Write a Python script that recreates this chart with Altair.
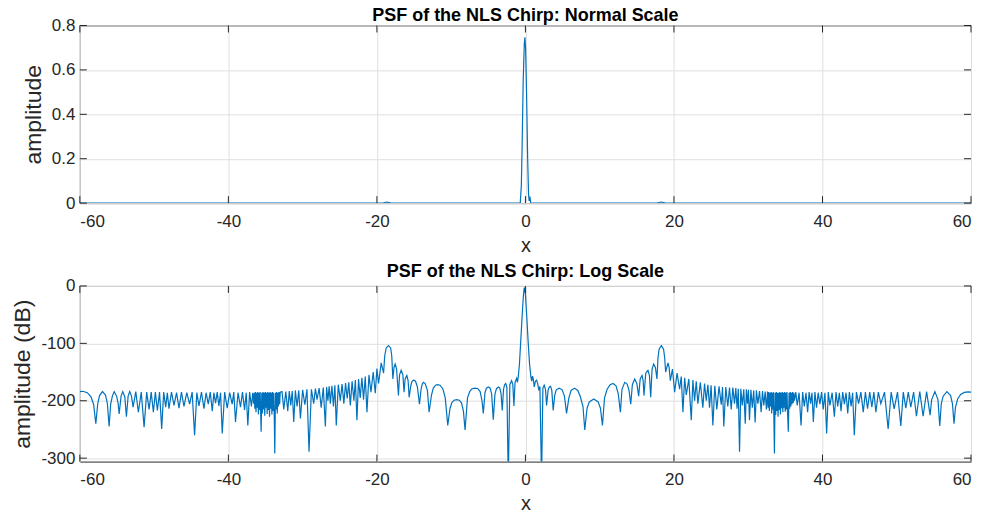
import altair as alt
import pandas as pd

# ---------------- data ----------------
x_ticks = [-60, -40, -20, 0, 20, 40, 60]
norm_ticks = [0, 0.2, 0.4, 0.6, 0.8]
db_ticks = [-300, -200, -100, 0]

# normal scale: amplitude
norm_x = [-60, -19.2, -18.65, -18.1, -1.0, -0.7, -0.55, -0.45, -0.3, -0.15, -0.07,
          0.02, 0.15, 0.3, 0.42, 0.5, 0.6, 0.72, 0.9, 17.7, 18.3, 18.9, 60]
norm_y = [0, 0, 0.005, 0, 0, 0.0, 0.08, 0.25, 0.55, 0.72, 0.747,
          0.70, 0.50, 0.20, 0.04, 0.01, 0.03, 0.0, 0, 0, 0.005, 0, 0]

# log scale (dB): left wing, centre, right wing as (x, dB)
left_wing = [
    (-60.0, -184), (-59.6, -183.5), (-59.0, -186), (-58.5, -193), (-58.15, -206), (-57.85, -240),
    (-57.6, -206), (-57.35, -191), (-56.95, -184), (-56.55, -190), (-56.3, -204), (-56.06, -245),
    (-55.85, -206), (-55.62, -192), (-55.38, -184), (-55.05, -192), (-54.85, -204), (-54.71, -223),
    (-54.45, -192), (-54.22, -184), (-53.95, -193), (-53.73, -228), (-53.5, -192), (-53.28, -184),
    (-53.05, -192), (-52.83, -211), (-52.47, -184), (-52.12, -220), (-51.73, -185), (-51.35, -246),
    (-51.0, -185), (-50.68, -215), (-50.39, -185), (-50.1, -220), (-49.83, -185), (-49.56, -217),
    (-49.27, -185), (-48.98, -249), (-48.71, -185), (-48.44, -211), (-48.22, -186), (-48.0, -214),
    (-47.66, -185), (-47.32, -208), (-46.98, -186), (-46.65, -213), (-46.32, -185), (-45.98, -210),
    (-45.6, -186), (-45.22, -206), (-44.88, -185), (-44.55, -260), (-44.25, -186), (-43.96, -209),
    (-43.62, -185), (-43.29, -214), (-43.0, -186), (-42.71, -206), (-42.44, -185), (-42.17, -218),
    (-41.95, -186), (-41.73, -204), (-41.5, -185), (-41.28, -209), (-41.05, -186), (-40.83, -257),
    (-40.5, -185), (-40.16, -213), (-39.82, -186), (-39.49, -206), (-39.27, -185), (-39.04, -237),
    (-38.7, -186), (-38.37, -211), (-38.1, -185), (-37.82, -216), (-37.6, -186), (-37.38, -243),
    (-37.14, -185), (-36.9, -210), (-36.72, -186),
    (-36.6, -205), (-36.52, -186), (-36.44, -214), (-36.36, -185), (-36.28, -220), (-36.2, -186),
    (-36.12, -212), (-36.04, -185), (-35.96, -224), (-35.88, -186), (-35.8, -216), (-35.72, -185),
    (-35.59, -254), (-35.5, -186), (-35.42, -222), (-35.34, -185), (-35.26, -215), (-35.18, -186),
    (-35.1, -226), (-35.02, -185), (-34.94, -212), (-34.86, -186), (-34.78, -223), (-34.7, -185),
    (-34.62, -216), (-34.54, -186), (-34.46, -228), (-34.38, -185), (-34.3, -214), (-34.22, -186),
    (-34.14, -224), (-34.06, -185), (-33.98, -218), (-33.9, -186), (-33.82, -230), (-33.75, -292),
    (-33.66, -186), (-33.58, -215), (-33.5, -185), (-33.42, -222), (-33.34, -186), (-33.26, -210),
    (-33.18, -185), (-33.1, -206), (-33.02, -185),
    (-32.78, -184), (-32.54, -215), (-32.27, -184), (-32.0, -218), (-31.8, -183), (-31.6, -208),
    (-31.4, -183), (-31.2, -237), (-30.98, -182), (-30.75, -210), (-30.52, -182), (-30.3, -231),
    (-30.0, -181), (-29.7, -207), (-29.42, -180), (-29.14, -289), (-28.82, -180), (-28.51, -205),
    (-28.28, -179), (-28.06, -198), (-27.78, -178), (-27.5, -212), (-27.22, -177), (-26.94, -245),
    (-26.77, -176), (-26.6, -200), (-26.43, -175), (-26.27, -205), (-26.06, -174), (-25.85, -210),
    (-25.66, -173), (-25.47, -243), (-25.2, -172), (-24.93, -200), (-24.69, -171), (-24.45, -205),
    (-24.22, -169), (-24.0, -196), (-23.79, -168), (-23.58, -208), (-23.34, -166), (-23.1, -200),
    (-22.9, -164), (-22.69, -234), (-22.47, -162), (-22.25, -195), (-22.02, -160), (-21.8, -198),
    (-21.57, -158), (-21.34, -220), (-21.07, -155), (-20.8, -185), (-20.5, -150), (-20.22, -187),
    (-20.0, -144), (-19.78, -170), (-19.42, -134), (-19.1, -152),
]

centre = [
    (-18.95, -122), (-18.75, -108), (-18.44, -104), (-18.15, -108), (-18.0, -122), (-17.85, -162),
    (-17.7, -142), (-17.54, -136), (-17.35, -145), (-17.1, -191), (-16.95, -155), (-16.73, -147),
    (-16.5, -155), (-16.35, -185), (-16.2, -162), (-15.97, -156), (-15.8, -165), (-15.66, -194),
    (-15.45, -175), (-15.3, -167), (-15.07, -164), (-14.8, -166), (-14.55, -176), (-14.27, -206),
    (-14.05, -180), (-13.9, -171), (-13.73, -168), (-13.5, -170), (-13.2, -182), (-12.97, -220),
    (-12.65, -190), (-12.4, -178), (-12.1, -173), (-11.85, -172), (-11.5, -173), (-11.1, -180),
    (-10.8, -195), (-10.46, -243), (-10.15, -213), (-9.9, -203), (-9.6, -199), (-9.25, -198),
    (-8.9, -199), (-8.6, -204), (-8.35, -218), (-8.13, -251), (-7.8, -195), (-7.5, -184),
    (-7.2, -179), (-6.79, -178), (-6.4, -179), (-6.1, -184), (-5.85, -200), (-5.67, -222),
    (-5.45, -186), (-5.25, -178), (-5.0, -176), (-4.75, -178), (-4.55, -188), (-4.33, -233),
    (-4.1, -188), (-3.9, -179), (-3.65, -176), (-3.45, -178), (-3.28, -188), (-3.12, -217),
    (-2.95, -180), (-2.8, -172), (-2.66, -170), (-2.5, -176), (-2.31, -340), (-2.1, -172),
    (-1.86, -165), (-1.7, -172), (-1.55, -209), (-1.4, -168), (-1.19, -161), (-1.08, -168),
    (-0.97, -159), (-0.8, -135), (-0.65, -100), (-0.43, -49), (-0.28, -18), (-0.16, -3),
    (-0.02, -12), (0.16, -49), (0.38, -100), (0.55, -135), (0.74, -159), (0.85, -166),
    (0.95, -157), (1.05, -162), (1.19, -176), (1.35, -166), (1.5, -164), (1.65, -170),
    (1.81, -182), (1.95, -175), (2.17, -340), (2.35, -178), (2.53, -173), (2.7, -180),
    (2.85, -208), (3.05, -182), (3.2, -176), (3.38, -175), (3.55, -182), (3.74, -217),
    (3.95, -190), (4.15, -181), (4.55, -178), (4.95, -181), (5.25, -192), (5.54, -222),
    (5.85, -195), (6.15, -182), (6.6, -178), (7.05, -182), (7.4, -193), (7.75, -210),
    (7.99, -251), (8.3, -213), (8.6, -202), (9.2, -197), (9.8, -202), (10.1, -213),
    (10.37, -243), (10.65, -195), (11.0, -180), (11.4, -172), (11.8, -170), (12.2, -174),
    (12.5, -188), (12.79, -220), (13.0, -180), (13.37, -168), (13.7, -171), (13.95, -182),
    (14.18, -206), (14.4, -172), (14.71, -162), (15.0, -170), (15.25, -192), (15.45, -162),
    (15.7, -156), (15.85, -165), (15.96, -191), (16.2, -152), (16.5, -147), (16.7, -156),
    (16.87, -194), (17.05, -145), (17.27, -136), (17.5, -142), (17.71, -162), (17.85, -125),
    (18.0, -110), (18.3, -104), (18.6, -110), (18.75, -125), (18.88, -150),
]

right_wing = [
    (19.19, -134), (19.35, -142), (19.51, -165), (19.8, -145), (20.09, -185), (20.42, -152),
    (20.76, -180), (20.98, -158), (21.21, -220), (21.44, -160), (21.66, -190), (22.0, -162),
    (22.33, -234), (22.55, -164), (22.78, -200), (23.0, -166), (23.22, -205), (23.55, -168),
    (23.89, -212), (24.12, -170), (24.35, -200), (24.57, -172), (24.79, -212), (25.0, -173),
    (25.24, -243), (25.5, -174), (25.77, -215), (26.07, -175), (26.37, -207), (26.54, -176),
    (26.71, -245), (26.98, -176), (27.25, -210), (27.48, -177), (27.71, -215), (27.93, -177),
    (28.15, -205), (28.33, -178), (28.5, -214), (28.66, -179), (28.83, -289), (29.0, -179),
    (29.2, -208), (29.4, -180), (29.6, -240), (29.75, -180), (29.9, -205), (30.03, -181),
    (30.17, -234), (30.36, -181), (30.55, -212), (30.74, -182), (30.93, -238), (31.1, -182),
    (31.3, -205), (31.52, -183), (31.74, -220), (31.92, -183), (32.1, -208), (32.28, -184),
    (32.45, -215),
    (32.6, -184), (32.68, -212), (32.76, -185), (32.84, -218), (32.92, -186), (33.0, -210),
    (33.08, -185), (33.16, -222), (33.24, -186), (33.32, -215), (33.4, -185), (33.53, -292),
    (33.62, -186), (33.7, -225), (33.78, -185), (33.86, -218), (33.94, -186), (34.02, -228),
    (34.1, -186), (34.18, -216), (34.26, -185), (34.34, -224), (34.42, -186), (34.5, -213),
    (34.58, -185), (34.66, -220), (34.74, -186), (34.82, -212), (34.9, -185), (34.98, -219),
    (35.06, -186), (35.14, -215), (35.22, -185), (35.3, -222), (35.4, -254), (35.5, -186),
    (35.58, -214), (35.66, -185), (35.74, -210), (35.82, -186), (35.9, -206), (35.98, -185),
    (36.06, -204), (36.14, -186), (36.22, -200),
    (36.4, -185), (36.6, -208), (36.85, -186), (37.11, -243), (37.33, -185), (37.55, -210),
    (37.78, -186), (38.0, -220), (38.2, -185), (38.4, -205), (38.58, -186), (38.77, -237),
    (38.98, -185), (39.2, -212), (39.42, -186), (39.65, -206), (39.88, -185), (40.1, -215),
    (40.33, -186), (40.56, -257), (40.78, -185), (41.0, -208), (41.3, -186), (41.6, -228),
    (41.82, -185), (42.05, -210), (42.27, -186), (42.5, -218), (42.72, -185), (42.95, -206),
    (43.17, -186), (43.4, -222), (43.62, -185), (43.85, -210), (44.06, -186), (44.28, -260),
    (44.57, -185), (44.86, -205), (45.17, -185), (45.49, -220), (45.78, -185), (46.07, -214),
    (46.36, -185), (46.65, -211), (46.92, -185), (47.19, -220), (47.52, -185), (47.86, -205),
    (48.35, -185), (48.84, -249), (49.25, -185), (49.65, -214), (50.1, -185), (50.55, -244),
    (50.88, -185), (51.22, -213), (51.55, -185), (51.89, -211), (52.27, -185), (52.65, -227),
    (53.1, -184), (53.55, -227), (54.02, -184), (54.49, -225), (54.7, -198), (55.14, -184),
    (55.55, -198), (55.79, -244), (56.0, -205), (56.25, -192), (56.75, -184), (57.25, -191),
    (57.5, -205), (57.71, -240), (57.9, -212), (58.2, -197), (58.6, -189), (59.1, -185.5),
    (59.6, -184.5), (60.0, -185),
]

# ---------------- chart ----------------
FONT = "Liberation Sans"
INK = "#262626"
BLUE = "#0072BD"
GRID = "#dfdfdf"
W = 893
H_TOP = 178
H_BOT = 176

norm_df = pd.DataFrame({"x": norm_x, "y": norm_y})
log_pts = left_wing + centre + right_wing
log_df = pd.DataFrame({"x": [p[0] for p in log_pts], "y": [p[1] for p in log_pts]})
xt_df = pd.DataFrame({"x": x_ticks})


def panel(df, ydom, yticks, title, ytitle, height, title_offset):
    xscale = alt.Scale(domain=[-60, 60], nice=False, zero=False)
    yscale = alt.Scale(domain=ydom, nice=False, zero=False)
    xaxis = alt.Axis(values=x_ticks, title="x", grid=True, gridColor=GRID, domain=False,
                     ticks=False, labelPadding=10, labelFontSize=17, labelFont=FONT,
                     labelColor=INK, titleFont=FONT, titleFontSize=20, titleFontWeight="normal",
                     titleColor=INK, titlePadding=6, labelExpr="'' + datum.value")
    yaxis = alt.Axis(values=yticks, title=ytitle, grid=True, gridColor=GRID, domain=False,
                     ticks=False, labelPadding=5, labelFontSize=17, labelFont=FONT,
                     labelColor=INK, titleFont=FONT, titleFontSize=23, titleFontWeight="normal",
                     titleColor=INK, titlePadding=6, labelExpr="'' + datum.value")
    X = alt.X("x:Q", scale=xscale, axis=xaxis)
    Y = alt.Y("y:Q", scale=yscale, axis=yaxis)
    line = alt.Chart(df).mark_line(color=BLUE, strokeWidth=1.2, clip=True).encode(x=X, y=Y)
    yt_df = pd.DataFrame({"y": yticks})
    tick_style = dict(color=INK, strokeWidth=1)
    xb = alt.Chart(xt_df).mark_rule(**tick_style).encode(
        x=X, y=alt.value(height), y2=alt.value(height - 7))
    xtop = alt.Chart(xt_df).mark_rule(**tick_style).encode(
        x=X, y=alt.value(0), y2=alt.value(7))
    yl = alt.Chart(yt_df).mark_rule(**tick_style).encode(
        y=Y, x=alt.value(0), x2=alt.value(7))
    yr = alt.Chart(yt_df).mark_rule(**tick_style).encode(
        y=Y, x=alt.value(W), x2=alt.value(W - 7))
    return alt.layer(line, xb, xtop, yl, yr).properties(
        width=W, height=height,
        title=alt.TitleParams(title, font=FONT, fontSize=18, fontWeight="bold", color="#000000",
                              anchor="middle", offset=title_offset),
    )


top = panel(norm_df, [0, 0.8], norm_ticks, "PSF of the NLS Chirp: Normal Scale", "amplitude", H_TOP, -9)
bot = panel(log_df, [-306, 0], db_ticks, "PSF of the NLS Chirp: Log Scale", "amplitude (dB)", H_BOT, -4)

chart = alt.vconcat(top, bot, spacing=6).properties(
    padding={"left": 3, "top": -2, "right": 5, "bottom": 0},
    background="white",
).configure_view(stroke=INK, strokeWidth=1)

chart.save("out.html", embed_options={"renderer": "svg", "actions": False})
